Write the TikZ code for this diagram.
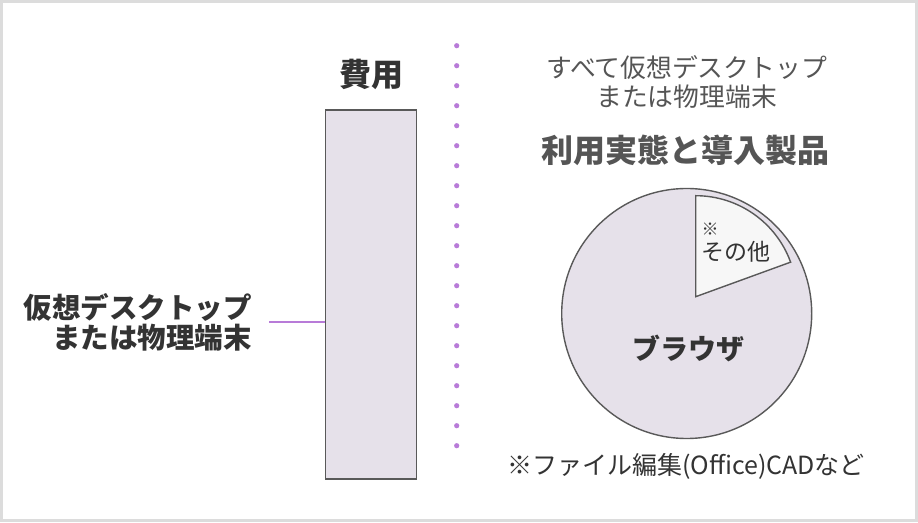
\documentclass[tikz,border=0pt]{standalone}
\usepackage{fontspec}
\setmainfont{Noto Sans CJK JP}
\usepackage{xcolor}
\usepackage{tikz}
\usetikzlibrary{positioning}
\definecolor{barfill}{HTML}{E6E1EA}
\definecolor{dotpurple}{HTML}{B87BD8}
\definecolor{edgegray}{HTML}{595959}
\definecolor{textdark}{HTML}{333333}
\definecolor{textgray}{HTML}{555555}
\definecolor{framegray}{HTML}{DCDCDC}
\definecolor{wedgefill}{HTML}{F7F7F7}

\begin{document}
\begin{tikzpicture}[x=1pt,y=1pt,
		boldtext/.style={text=textdark,font=\bfseries\fontsize{#1}{#1}\selectfont},
		plaintext/.style={text=textgray,font=\fontsize{#1}{#1}\selectfont},
		shape edge/.style={draw=edgegray,line width=1.4pt}]
		\useasboundingbox (0,0) rectangle (918,522);
		\draw[framegray,line width=3pt] (1.5,1.5) rectangle (916.5,520.5);
		% left side: cost bar
		\node[shape edge,fill=barfill,inner sep=0,minimum width=90.6,minimum height=369] (bar) at (371,227.5) {};
		\node[boldtext=32] (cost) at (371.5,448) {費用};
		\node[boldtext=28,anchor=east,align=right,inner xsep=0,font=\bfseries\fontsize{28.5}{30}\selectfont] (vdi) at (252,200) {仮想デスクトップ\\または物理端末};
		\draw[dotpurple,line width=1.5pt] ([xshift=17]vdi.east) -- (vdi.east -| bar.west);
		% dotted divider
		\foreach \k in {0,...,20}
			\fill[dotpurple] (456.7,476.3-20*\k) circle (2.6);
		% right side: usage pie
		\node[plaintext=26,align=center,font=\fontsize{25.8}{29}\selectfont] (scope) at (686.5,439.5) {すべて仮想デスクトップ\\または物理端末};
		\node[text=textgray,font=\bfseries\fontsize{32}{32}\selectfont] (usage) at (685,372) {利用実態と導入製品};
		\node[shape edge,fill=barfill,circle,inner sep=0,minimum size=250] (pie) at (686.7,208.5) {};
		\draw[shape edge,fill=wedgefill] (695.7,225.3) -- ++(90:101) arc (90:20:101) -- cycle;
		\node[boldtext=28] (browser) at (688,174) {ブラウザ};
		\node[plaintext=17,text=textdark] (mark) at (710,293) {※};
		\node[plaintext=23,text=textdark] (other) at (736,270) {その他};
		\node[plaintext=25,text=textdark] (note) at (686,56) {※ファイル編集(Office)CADなど};
	\end{tikzpicture}
\end{document}
